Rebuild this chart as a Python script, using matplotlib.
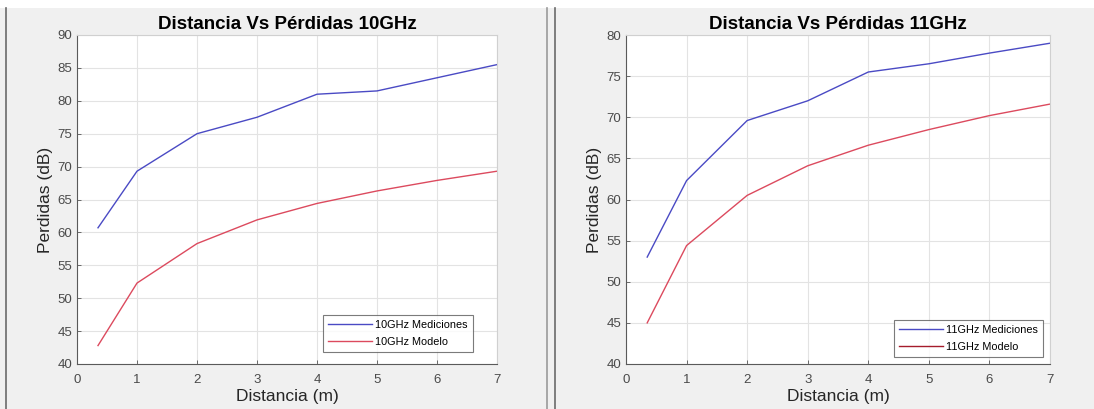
import matplotlib.pyplot as plt
from matplotlib.lines import Line2D
from matplotlib.patches import Rectangle

plt.rcParams['font.family'] = ['Liberation Sans', 'DejaVu Sans']

# distancias medidas (m)
distancia = [0.35, 1, 2, 3, 4, 5, 6, 7]

# 10 GHz
med_10 = [60.7, 69.3, 75.0, 77.5, 81.0, 81.5, 83.5, 85.5]
mod_10 = [42.8, 52.3, 58.3, 61.9, 64.4, 66.3, 67.9, 69.3]

# 11 GHz
med_11 = [53.0, 62.3, 69.6, 72.0, 75.5, 76.5, 77.8, 79.0]
mod_11 = [45.0, 54.4, 60.5, 64.1, 66.6, 68.5, 70.2, 71.6]

x_ticks = [0, 1, 2, 3, 4, 5, 6, 7]
y_ticks_10 = [40, 45, 50, 55, 60, 65, 70, 75, 80, 85, 90]
y_ticks_11 = [40, 45, 50, 55, 60, 65, 70, 75, 80]

azul = '#4a4ac4'
rojo = '#dc4a5e'

fig = plt.figure(figsize=(10.94, 4.09), dpi=100, facecolor='#f0f0f0')

# franja blanca arriba y separadores de las ventanas
fig.patches.append(Rectangle((0, 1 - 8 / 409), 1, 8 / 409, transform=fig.transFigure,
                             facecolor='white', edgecolor='none', zorder=0))
for xs, c in [(6, '#6a6a6a'), (547, '#9a9a9a'), (555, '#6a6a6a')]:
    fig.add_artist(Line2D([xs / 1094, xs / 1094], [0, 1 - 8 / 409], transform=fig.transFigure,
                          color=c, linewidth=1.2))


def panel(rect, med, mod, yticks, titulo, etiquetas, ley_anchor, rojo_ley):
    ax = fig.add_axes(rect)
    ax.set_facecolor('white')
    ax.plot(distancia, med, color=azul, linewidth=1.0, label=etiquetas[0])
    ax.plot(distancia, mod, color=rojo, linewidth=1.0, label=etiquetas[1])
    ax.set_xlim(0, 7)
    ax.set_ylim(yticks[0], yticks[-1])
    ax.set_xticks(x_ticks)
    ax.set_yticks(yticks)
    ax.grid(True, color='#e3e3e3', linewidth=0.8)
    ax.set_axisbelow(True)
    ax.tick_params(direction='in', length=3, width=0.6, colors='#555555',
                   labelsize=9.5, labelcolor='#4a4a4a', top=False, right=False)
    ax.tick_params(axis='x', pad=7)
    for lado in ['left', 'bottom']:
        ax.spines[lado].set_color('#5a5a5a')
        ax.spines[lado].set_linewidth(0.8)
    for lado in ['top', 'right']:
        ax.spines[lado].set_color('#d0d0d0')
        ax.spines[lado].set_linewidth(0.8)
    ax.set_title(titulo, fontsize=13.5, fontweight='bold', pad=4)
    ax.set_xlabel('Distancia (m)', fontsize=12.5, color='#262626', labelpad=2)
    ax.set_ylabel('Perdidas (dB)', fontsize=12.5, color='#262626', labelpad=3)
    leg = ax.legend(loc='lower right', bbox_to_anchor=ley_anchor, fontsize=7.8,
                    frameon=True, fancybox=False, handlelength=4.0, handletextpad=0.3,
                    borderpad=0.5, labelspacing=0.6)
    leg.get_frame().set_edgecolor('#5a5a5a')
    leg.get_frame().set_linewidth(0.8)
    leg.legend_handles[1].set_color(rojo_ley)
    return ax


panel([77 / 1094, 45 / 409, 420 / 1094, 329 / 409], med_10, mod_10, y_ticks_10,
      'Distancia Vs Pérdidas 10GHz', ['10GHz Mediciones', '10GHz Modelo'],
      (0.955, 0.02), rojo)
panel([626 / 1094, 45 / 409, 424 / 1094, 329 / 409], med_11, mod_11, y_ticks_11,
      'Distancia Vs Pérdidas 11GHz', ['11GHz Mediciones', '11GHz Modelo'],
      (0.997, 0.005), '#a51c2c')

fig.savefig('out.png', dpi=100, facecolor=fig.get_facecolor())
